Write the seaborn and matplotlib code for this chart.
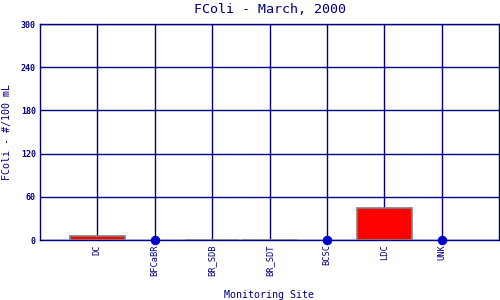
import matplotlib
matplotlib.use("Agg")
import matplotlib.pyplot as plt
import seaborn as sns
import numpy as np
import pandas as pd

sites = ["DC", "BFCaBR", "BR_SDB", "BR_SDT", "BCSC", "LDC", "UNK"]
values = [5, np.nan, 0, 0, np.nan, 44, np.nan]
yticks = [0, 60, 120, 180, 240, 300]

navy = "#000080"
sns.set_theme(style="white")
plt.rcParams['font.family'] = ['DejaVu Sans Mono', 'DejaVu Sans']

df = pd.DataFrame({"site": sites, "value": values})
missing = df[df["value"].isna()].assign(zero=0.0)

fig = plt.figure(figsize=(5, 3), dpi=100)
ax = fig.add_axes([40/500, 60/300, 459/500, 216/300])

sns.barplot(data=df, x="site", y="value", order=sites, color="red",
            saturation=1, width=0.95, edgecolor="gray", linewidth=1.2,
            ax=ax, zorder=3)
sns.scatterplot(data=missing, x="site", y="zero", color="#0000cc", s=40,
                edgecolor="#0000cc", ax=ax, zorder=4, clip_on=False)

ax.set_xlim(-1, 7)
ax.set_ylim(0, 300)
ax.set_xticks(range(len(sites)))
ax.set_xticklabels(sites, rotation=90, fontsize=6.2, color=navy, va="top")
ax.set_yticks(yticks)
ax.set_yticklabels([str(v) for v in yticks], fontsize=6, color=navy, fontweight="bold")
ax.tick_params(axis="both", length=0, pad=3)
ax.grid(True, axis="both", color=navy, linewidth=1)
ax.set_axisbelow(True)

for s in ax.spines.values():
    s.set_color(navy)
    s.set_linewidth(1)

ax.set_xlabel("Monitoring Site", fontsize=7.2, color=navy, labelpad=10)
ax.set_ylabel("FColi - #/100 mL", fontsize=7.2, color=navy, labelpad=6)
ax.set_title("FColi - March, 2000", fontsize=9.6, color=navy, pad=8)

fig.savefig("out.png", dpi=100)
